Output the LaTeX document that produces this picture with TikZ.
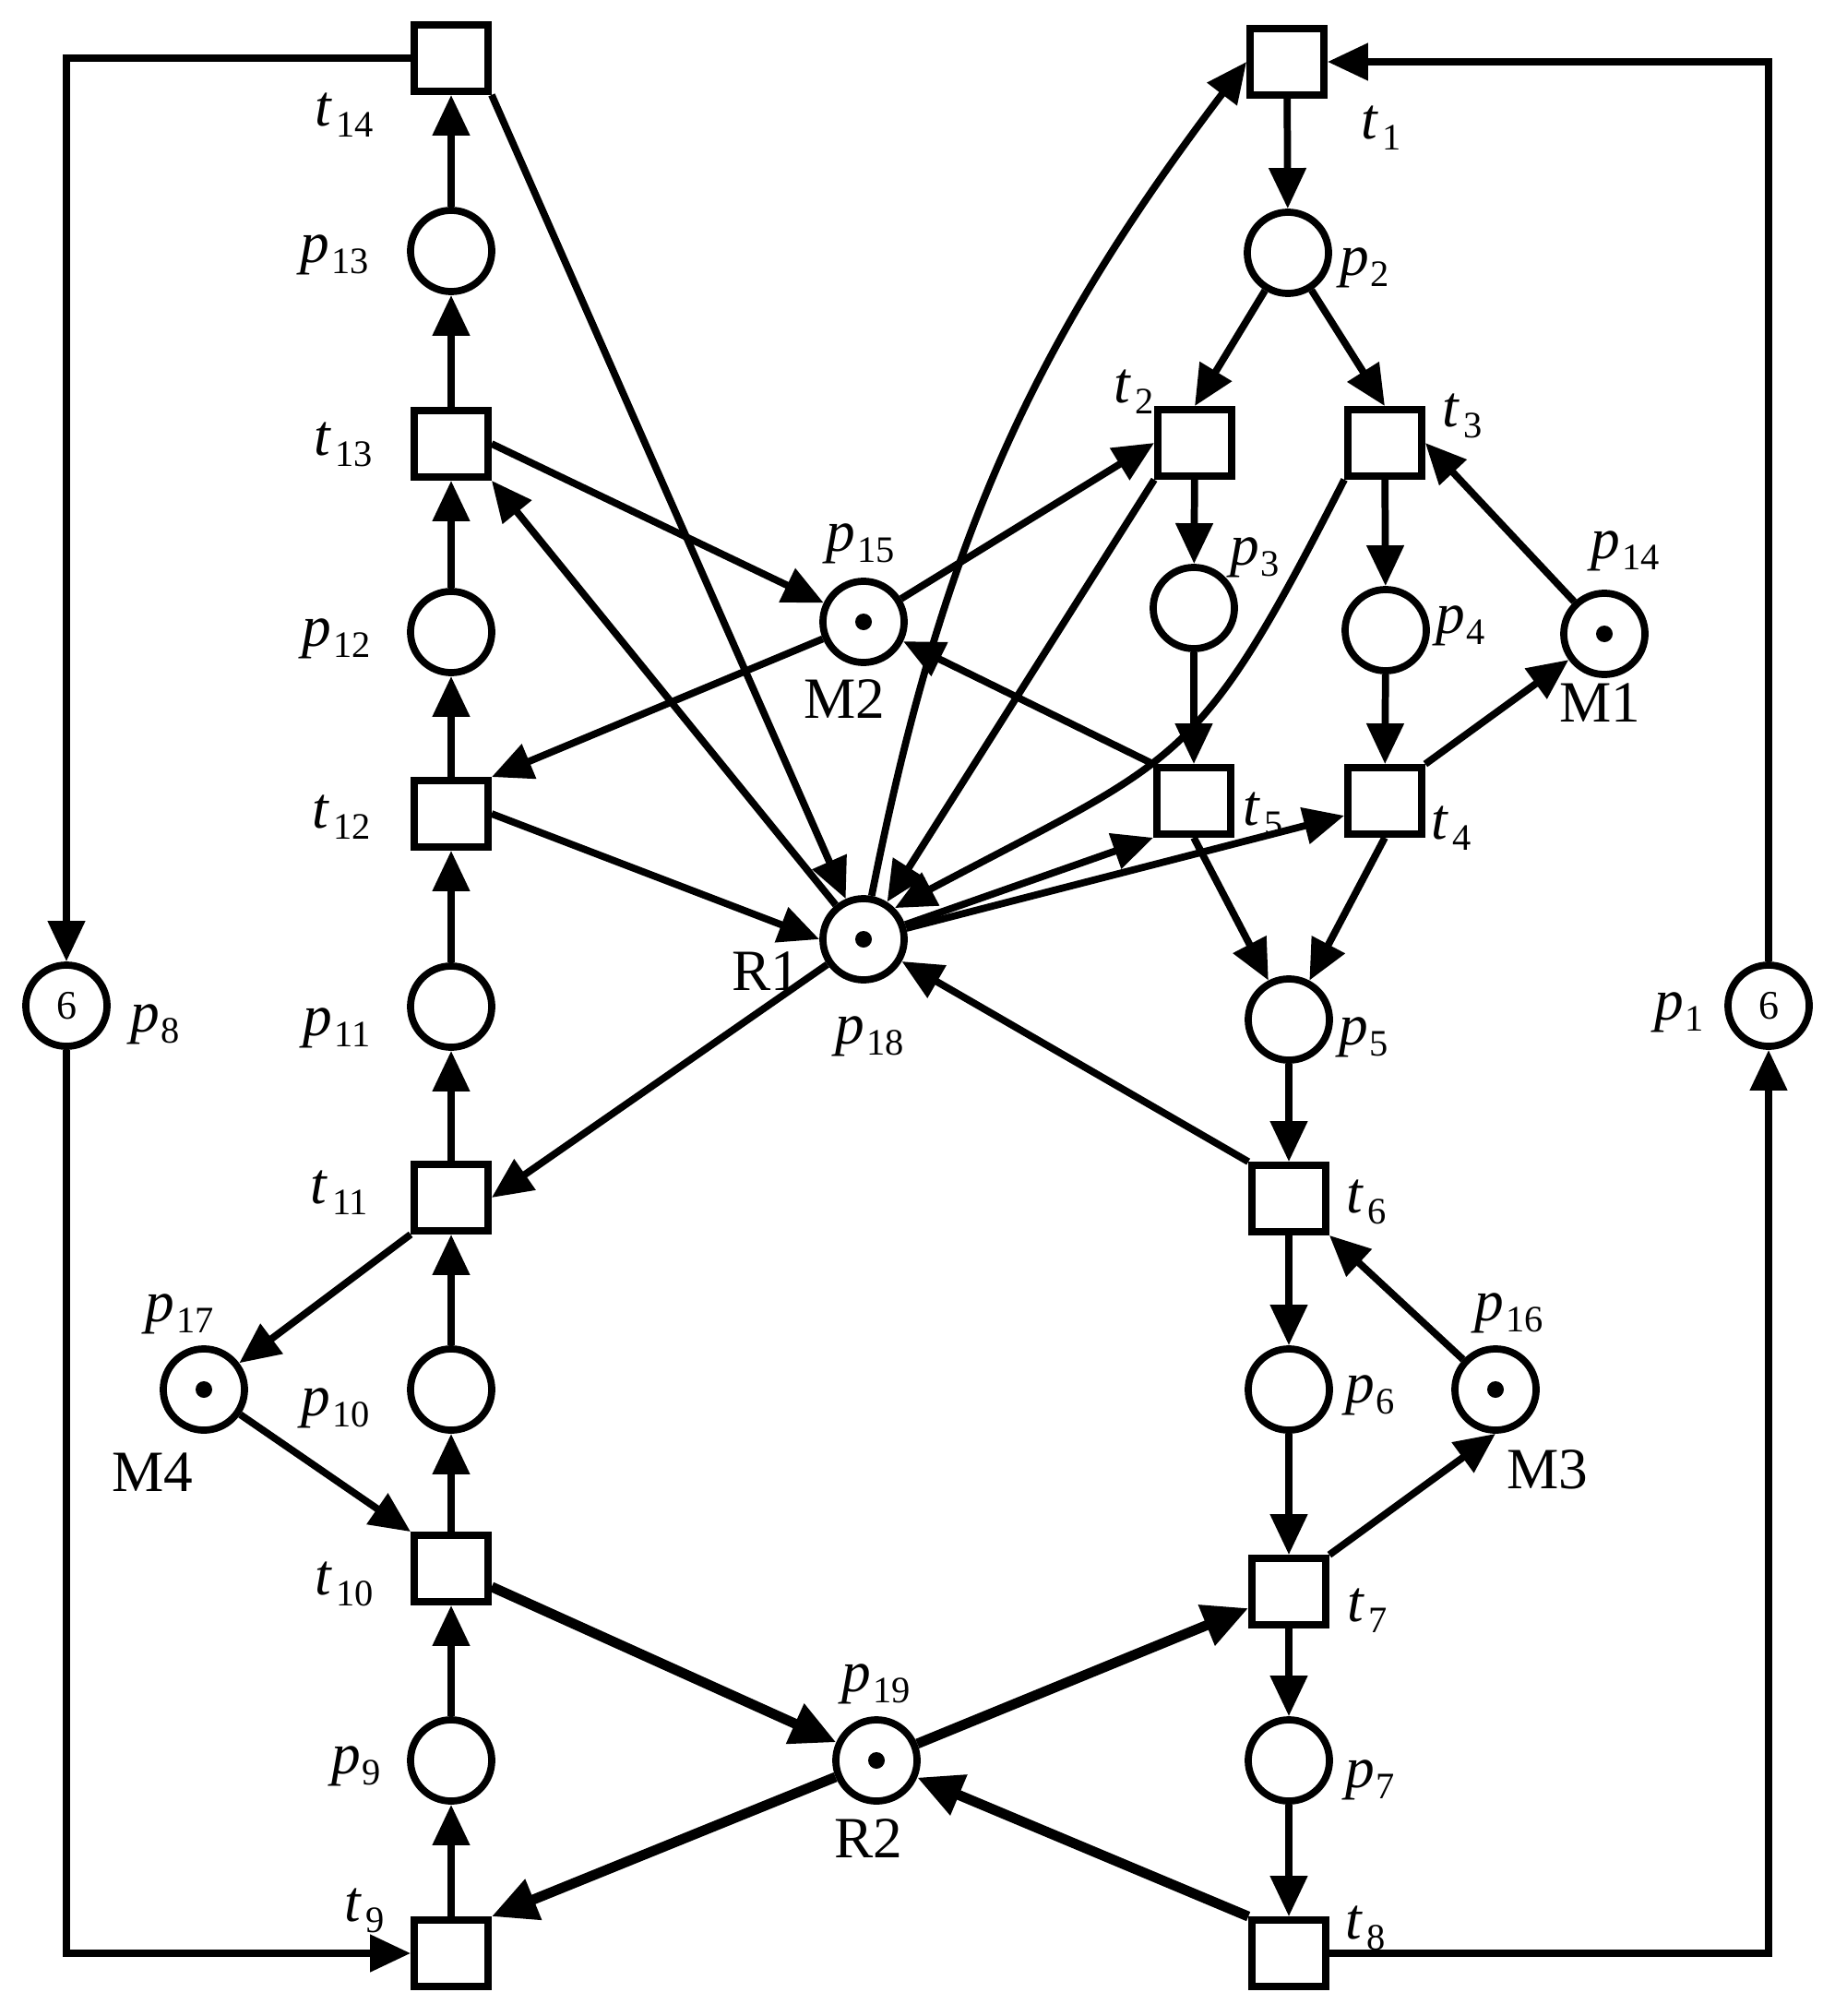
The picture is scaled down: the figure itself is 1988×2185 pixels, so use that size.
\documentclass[tikz,border=0pt]{standalone}
\usepackage{fontspec}
\setmainfont{Liberation Serif}
\usetikzlibrary{arrows.meta}
\newcommand{\plab}[1]{\textit{p}\kern0.6pt\raisebox{-3.4pt}{\fontsize{11.5}{12}\selectfont #1}}
\newcommand{\tlab}[1]{\textit{t}\kern1.2pt\raisebox{-3.4pt}{\fontsize{11.5}{12}\selectfont #1}}

\begin{document}
\begin{tikzpicture}[
  x=0.01cm, y=0.01cm,
  place/.style={draw, circle, line width=2.2pt, minimum size=8.8mm, inner sep=0pt},
  marked/.style={place, path picture={\fill (path picture bounding box.center) circle (9);}},
  trans/.style={draw, rectangle, line width=2.2pt, minimum width=8mm, minimum height=7.2mm, inner sep=0pt},
  lbl/.style={inner sep=0pt, font=\fontsize{18}{20}\selectfont},
  arrow/.style={-{Triangle[length=4.4mm, width=3.9mm]}, line width=2.2pt},
  heavy/.style={-{Triangle[length=4.9mm, width=4.5mm]}, line width=3.1pt}
]
\useasboundingbox (0,0) rectangle (1988,-2185);

\node[trans] (t14) at (489,-63) {};
\node[place] (p13) at (489,-272) {};
\node[trans] (t13) at (489,-481) {};
\node[place] (p12) at (489,-685) {};
\node[trans] (t12) at (489,-882) {};
\node[place] (p11) at (489,-1091) {};
\node[trans] (t11) at (489,-1298) {};
\node[place] (p10) at (489,-1506) {};
\node[trans] (t10) at (489,-1700) {};
\node[place] (p9) at (489,-1908) {};
\node[trans] (t9) at (489,-2117) {};
\node[place, font=\fontsize{12.5}{13}\selectfont] (p8) at (72,-1090) {6};
\node[marked] (p17) at (221,-1506) {};
\node[marked] (p15) at (936,-674) {};
\node[marked] (p18) at (936,-1018) {};
\node[marked] (p19) at (950,-1908) {};
\node[trans] (t2) at (1295,-480) {};
\node[place] (p3) at (1294,-659) {};
\node[trans] (t5) at (1294,-868) {};
\node[trans] (t1) at (1395,-67) {};
\node[place] (p2) at (1396,-274) {};
\node[place] (p5) at (1397,-1105) {};
\node[trans] (t6) at (1397,-1299) {};
\node[place] (p6) at (1397,-1506) {};
\node[trans] (t7) at (1397,-1725) {};
\node[place] (p7) at (1397,-1908) {};
\node[trans] (t8) at (1397,-2117) {};
\node[trans] (t3) at (1501,-480) {};
\node[place] (p4) at (1502,-683) {};
\node[trans] (t4) at (1501,-868) {};
\node[marked] (p14) at (1739,-687) {};
\node[marked] (p16) at (1621,-1506) {};
\node[place, font=\fontsize{12.5}{13}\selectfont] (p1) at (1917,-1090) {6};

\node[lbl] (lt14) at (373,-125) {\tlab{14}};
\node[lbl] (lp13) at (363,-276) {\plab{13}};
\node[lbl] (lt13) at (372,-482) {\tlab{13}};
\node[lbl] (lp12) at (365,-692) {\plab{12}};
\node[lbl] (lt12) at (370,-886) {\tlab{12}};
\node[lbl] (lp11) at (365,-1114) {\plab{11}};
\node[lbl] (lt11) at (368,-1293) {\tlab{11}};
\node[lbl] (lp10) at (364,-1526) {\plab{10}};
\node[lbl] (lt10) at (373,-1717) {\tlab{10}};
\node[lbl] (lp9) at (386,-1914) {\plab{9}};
\node[lbl] (lt9) at (395,-2071) {\tlab{9}};
\node[lbl] (lp17) at (195,-1424) {\plab{17}};
\node[lbl] (lm4) at (165,-1596) {M4};
\node[lbl] (lp19) at (950,-1825) {\plab{19}};
\node[lbl] (lr2) at (941,-1993) {R2};
\node[lbl] (lp8) at (168,-1110) {\plab{8}};
\node[lbl] (lp1) at (1820,-1097) {\plab{1}};
\node[lbl] (lt1) at (1497,-139) {\tlab{1}};
\node[lbl] (lp2) at (1479,-290) {\plab{2}};
\node[lbl] (lt3) at (1585,-451) {\tlab{3}};
\node[lbl] (lp14) at (1762,-597) {\plab{14}};
\node[lbl] (lp3) at (1360,-604) {\plab{3}};
\node[lbl] (lp4) at (1583,-678) {\plab{4}};
\node[lbl] (lm1) at (1734,-762) {M1};
\node[lbl] (lt2) at (1229,-425) {\tlab{2}};
\node[lbl] (lp15) at (933,-589) {\plab{15}};
\node[lbl] (lm2) at (915,-758) {M2};
\node[lbl] (lr1) at (830,-1053) {R1};
\node[lbl] (lp18) at (943,-1123) {\plab{18}};
\node[lbl] (lt5) at (1369,-883) {\tlab{5}};
\node[lbl] (lt4) at (1573,-898) {\tlab{4}};
\node[lbl] (lp5) at (1478,-1124) {\plab{5}};
\node[lbl] (lt6) at (1481,-1303) {\tlab{6}};
\node[lbl] (lp6) at (1485,-1512) {\plab{6}};
\node[lbl] (lp16) at (1636,-1423) {\plab{16}};
\node[lbl] (lm3) at (1677,-1593) {M3};
\node[lbl] (lt7) at (1482,-1746) {\tlab{7}};
\node[lbl] (lp7) at (1485,-1929) {\plab{7}};
\node[lbl] (lt8) at (1480,-2090) {\tlab{8}};

\draw[arrow] (t9) -- (p9);
\draw[arrow] (p9) -- (t10);
\draw[arrow] (t10) -- (p10);
\draw[arrow] (p10) -- (t11);
\draw[arrow] (t11) -- (p11);
\draw[arrow] (p11) -- (t12);
\draw[arrow] (t12) -- (p12);
\draw[arrow] (p12) -- (t13);
\draw[arrow] (t13) -- (p13);
\draw[arrow] (p13) -- (t14);
\draw[arrow] (t14.west) -| (p8);
\draw[arrow] (p8) |- (t9);
\draw[arrow] (t8) -| (p1);
\draw[arrow] (p1) |- (t1);

\draw[arrow] (t1) -- (p2);
\draw[arrow] (p2) -- (t2.north);
\draw[arrow] (p2) -- (t3.north);
\draw[arrow] (t2) -- (p3);
\draw[arrow] (p3) -- (t5);
\draw[arrow] (t3) -- (p4);
\draw[arrow] (p4) -- (t4);
\draw[arrow] (t5.south) -- (p5);
\draw[arrow] (t4.south) -- (p5);
\draw[arrow] (p5) -- (t6);
\draw[arrow] (t6) -- (p6);
\draw[arrow] (p6) -- (t7);
\draw[arrow] (t7) -- (p7);
\draw[arrow] (p7) -- (t8);

\draw[arrow] (t14.south east) -- (p18);
\draw[arrow] (t13.east) -- (p15);
\draw[arrow] (p18) -- (t13.south east);
\draw[arrow] (p15) -- (t12.north east);
\draw[arrow] (t12.east) -- (p18.west);
\draw[arrow] (p18) -- (t11.east);
\draw[arrow] (t11.south west) -- (p17);
\draw[arrow] (p17) -- (t10.north west);
\draw[arrow] (p15) -- (t2.west);
\draw[arrow] (t2.south west) -- (p18);
\draw[arrow] (t3.south west) to[out=243, in=28, looseness=1.35] (p18.45);
\draw[arrow] (p18) to[bend left=13] (t1.west);
\draw[arrow] (t5.north west) -- (p15);
\draw[arrow] (p18) -- (t5.south west);
\draw[arrow] (p18) -- (t4.200);
\draw[arrow] (t6.north west) -- (p18);
\draw[arrow] (p14) -- (t3.east);
\draw[arrow] (t4.north east) -- (p14);
\draw[arrow] (p16) -- (t6.south east);
\draw[arrow] (t7.north east) -- (p16.south);

\draw[heavy] (t10) -- (p19);
\draw[heavy] (p19) -- (t9.north east);
\draw[heavy] (p19) -- (t7);
\draw[heavy] (t8.north west) -- (p19);
\end{tikzpicture}
\end{document}
